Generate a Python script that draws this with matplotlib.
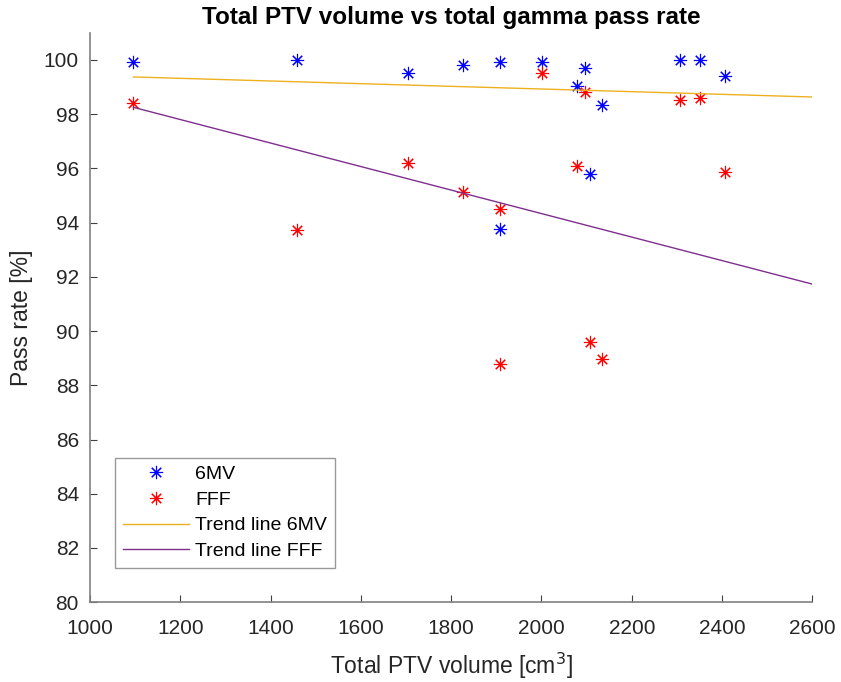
import numpy as np
import matplotlib
matplotlib.use('Agg')
import matplotlib.pyplot as plt
from matplotlib import rcParams

rcParams['font.family'] = ['Liberation Sans', 'DejaVu Sans']

# 每位患者的总 PTV 体积 [cm3] 及两种能量的 gamma 通过率 [%]
volume = [1096, 1459, 1704, 1827, 1908, 1909, 2001, 2078, 2096, 2107, 2135, 2307, 2352, 2406]
pass_6mv = [99.93, 100.0, 99.52, 99.80, 99.93, 93.78, 99.93, 99.05, 99.70, 95.79, 98.33, 99.99, 100.0, 99.40]
pass_fff = [98.41, 93.72, 96.19, 95.11, 88.80, 94.50, 99.52, 96.10, 98.80, 89.60, 88.98, 98.53, 98.60, 95.88]

# 趋势线端点
trend_x = [1096, 2600]
trend_6mv = [99.37, 98.63]
trend_fff = [98.25, 91.73]

xticks = np.arange(1000, 2601, 200)
yticks = np.arange(80, 101, 2)


def main():
    fig = plt.figure(figsize=(8.41, 6.82), dpi=100)
    ax = fig.add_axes([0.107, 0.117, 0.859, 0.835])

    asterisk = (8, 2, 0)  # 米字形标记
    ax.plot(volume, pass_6mv, linestyle='none', marker=asterisk, markersize=9.5,
            markeredgewidth=0.8, color='#0000ff', label='6MV')
    ax.plot(volume, pass_fff, linestyle='none', marker=asterisk, markersize=9.5,
            markeredgewidth=0.8, color='#ff0000', label='FFF')
    ax.plot(trend_x, trend_6mv, color='#edb120', lw=1.0, label='Trend line 6MV')
    ax.plot(trend_x, trend_fff, color='#7e2f8e', lw=1.0, label='Trend line FFF')

    ax.set_xlim(1000, 2600)
    ax.set_ylim(80, 101)
    ax.set_xticks(xticks)
    ax.set_yticks(yticks)

    # 坐标轴样式：只保留左、下边框，刻度朝内
    for side in ['top', 'right']:
        ax.spines[side].set_visible(False)
    for side in ['left', 'bottom']:
        ax.spines[side].set_color('#808080')
        ax.spines[side].set_linewidth(1.2)
    ax.tick_params(direction='in', length=5, width=0.8, color='#404040',
                   labelsize=15, labelcolor='#262626')
    ax.tick_params(axis='x', pad=12)
    ax.tick_params(axis='y', pad=8)

    ax.set_xlabel('Total PTV volume [cm$^3$]', fontsize=16.5, color='#262626', labelpad=9)
    ax.set_ylabel('Pass rate [%]', fontsize=16.5, color='#262626', labelpad=8)
    ax.set_title('Total PTV volume vs total gamma pass rate', fontsize=17.5,
                 fontweight='bold', color='black', pad=6)

    leg = ax.legend(loc='lower left', bbox_to_anchor=(0.035, 0.06), fontsize=14,
                    frameon=True, fancybox=False, handlelength=3.4,
                    borderpad=0.4, labelspacing=0.42, handletextpad=0.3,
                    borderaxespad=0)
    leg.get_frame().set_edgecolor('#808080')
    leg.get_frame().set_linewidth(1.0)

    fig.savefig('out.png', dpi=100)


if __name__ == '__main__':
    main()
